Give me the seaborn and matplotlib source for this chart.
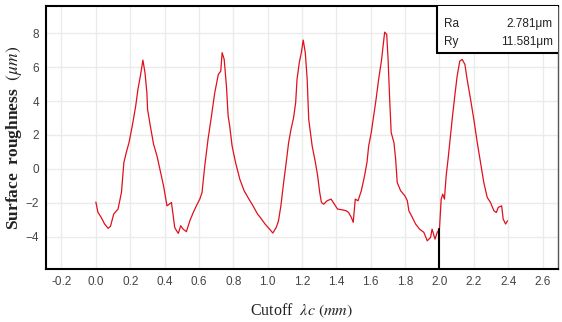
import matplotlib
matplotlib.use("Agg")
import matplotlib.pyplot as plt
from matplotlib.patches import Rectangle
import seaborn as sns
import pandas as pd

# profile
cutoff_mm = [
    0.000, 0.012, 0.031, 0.051, 0.071, 0.085, 0.104, 0.129, 0.149, 0.163,
    0.177, 0.193, 0.212, 0.232, 0.245, 0.259, 0.274, 0.286, 0.297, 0.301,
    0.317, 0.336, 0.356, 0.375, 0.394, 0.414, 0.440, 0.459, 0.470, 0.480,
    0.494, 0.508, 0.527, 0.547, 0.567, 0.585, 0.605, 0.618, 0.634, 0.653,
    0.673, 0.692, 0.713, 0.727, 0.735, 0.747, 0.760, 0.770, 0.779, 0.793,
    0.813, 0.838, 0.863, 0.891, 0.915, 0.941, 0.960, 0.985, 1.011, 1.030,
    1.050, 1.063, 1.077, 1.093, 1.108, 1.122, 1.136, 1.151, 1.163, 1.171,
    1.184, 1.196, 1.207, 1.219, 1.230, 1.239, 1.249, 1.259, 1.278, 1.291,
    1.303, 1.313, 1.326, 1.346, 1.369, 1.388, 1.407, 1.433, 1.458, 1.471,
    1.487, 1.498, 1.510, 1.526, 1.545, 1.564, 1.578, 1.588, 1.603, 1.617,
    1.631, 1.646, 1.662, 1.674, 1.681, 1.693, 1.701, 1.711, 1.719, 1.735,
    1.745, 1.754, 1.774, 1.799, 1.813, 1.822, 1.842, 1.861, 1.884, 1.909,
    1.929, 1.948, 1.957, 1.974, 1.987, 2.000, 2.010, 2.019, 2.029, 2.039,
    2.050, 2.060, 2.074, 2.089, 2.103, 2.118, 2.132, 2.148, 2.161, 2.181,
    2.200, 2.220, 2.239, 2.258, 2.278, 2.297, 2.317, 2.331, 2.342, 2.362,
    2.371, 2.385, 2.396,
]
roughness_um = [
    -1.95, -2.56, -2.86, -3.25, -3.50, -3.39, -2.66, -2.37, -1.39, 0.37,
    0.96, 1.55, 2.53, 3.71, 4.69, 5.47, 6.41, 5.67, 4.49, 3.51,
    2.53, 1.45, 0.76, -0.12, -1.00, -2.18, -1.98, -3.45, -3.65, -3.80,
    -3.35, -3.55, -3.70, -3.06, -2.57, -2.18, -1.78, -1.39, 0.18, 1.75,
    3.12, 4.49, 5.57, 5.76, 6.85, 6.45, 4.88, 3.12, 2.53, 1.35,
    0.38, -0.61, -1.29, -1.78, -2.18, -2.66, -2.90, -3.25, -3.55, -3.78,
    -3.45, -3.06, -2.18, -0.80, 0.38, 1.55, 2.34, 3.02, 3.91, 5.28,
    6.26, 6.85, 7.59, 6.85, 5.28, 2.92, 2.14, 1.35, 0.38, -0.41,
    -1.39, -1.98, -2.08, -1.88, -1.78, -2.08, -2.37, -2.41, -2.47, -2.57,
    -2.86, -3.15, -1.78, -1.88, -1.29, -0.41, 0.38, 1.35, 2.14, 3.12,
    4.10, 5.28, 6.35, 7.44, 8.06, 7.92, 6.45, 3.91, 2.14, 1.55,
    0.57, -0.80, -1.29, -1.59, -1.88, -2.47, -2.86, -3.25, -3.55, -3.74,
    -4.24, -4.04, -3.55, -4.14, -3.74, -3.55, -1.78, -1.49, -1.78, -0.41,
    0.57, 1.55, 2.92, 4.29, 5.47, 6.35, 6.45, 6.16, 5.28, 4.10,
    2.92, 1.55, 0.38, -0.80, -1.68, -1.98, -2.47, -2.57, -2.27, -2.18,
    -2.96, -3.25, -3.06,
]
x_ticks = [-0.2, 0.0, 0.2, 0.4, 0.6, 0.8, 1.0, 1.2, 1.4, 1.6, 1.8, 2.0, 2.2, 2.4, 2.6]
y_ticks = [-4, -2, 0, 2, 4, 6, 8]
stat_names = ["Ra", "Ry"]
stat_values = ["2.781μm", "11.581μm"]
marker_x = 2.0
marker_top = -3.55

sns.set_style("whitegrid")
plt.rcParams["font.family"] = ["Liberation Sans Narrow", "Liberation Sans", "DejaVu Sans"]
plt.rcParams["mathtext.fontset"] = "stix"

df = pd.DataFrame({"cutoff": cutoff_mm, "roughness": roughness_um})

fig = plt.figure(figsize=(5.62, 3.22), dpi=100)
ax = fig.add_axes([0.0819, 0.1646, 0.911, 0.8168])

sns.lineplot(data=df, x="cutoff", y="roughness", ax=ax, color="#e0101c", linewidth=0.9)
ax.plot([marker_x, marker_x], [-5.9, marker_top], color="black", linewidth=1.5)

ax.set_xlim(-0.29, 2.69)
ax.set_ylim(-5.9, 9.6)
ax.set_xticks(x_ticks)
ax.set_xticklabels([f"{v:.1f}" for v in x_ticks])
ax.set_yticks(y_ticks)
ax.tick_params(axis="both", labelsize=8.5, colors="#444444", length=0, pad=5)
ax.grid(True, color="#ebebeb", linewidth=1)

for side in ["left", "bottom", "top"]:
    ax.spines[side].set_color("black")
    ax.spines[side].set_linewidth(1.5)
ax.spines["right"].set_color("#555555")
ax.spines["right"].set_linewidth(1.0)

ax.set_xlabel("Cutoff  $\\lambda c\\ (mm)$", family="Liberation Serif", fontsize=11.5,
              color="#222222", labelpad=10)
ax.set_ylabel("Surface  roughness  $(\\mu m)$", family="Liberation Serif", fontsize=12.5,
              fontweight="bold", color="#222222", labelpad=1)

# statistics box in the upper right corner
box = Rectangle((0.764, 0.821), 0.236, 0.179, transform=ax.transAxes,
                facecolor="white", edgecolor="none", zorder=4)
ax.add_patch(box)
ax.plot([0.764, 0.764], [0.821, 1.0], transform=ax.transAxes, color="black", linewidth=1.5, zorder=5)
ax.plot([0.764, 1.0], [0.821, 0.821], transform=ax.transAxes, color="black", linewidth=1.5, zorder=5)
for i, (name, val) in enumerate(zip(stat_names, stat_values)):
    yy = 0.932 - i * 0.07
    ax.text(0.777, yy, name, transform=ax.transAxes, fontsize=8.5, color="#222222",
            va="center", ha="left", zorder=6)
    ax.text(0.99, yy, val, transform=ax.transAxes, fontsize=8.5, color="#222222",
            va="center", ha="right", zorder=6)

fig.savefig("out.png", dpi=100)
